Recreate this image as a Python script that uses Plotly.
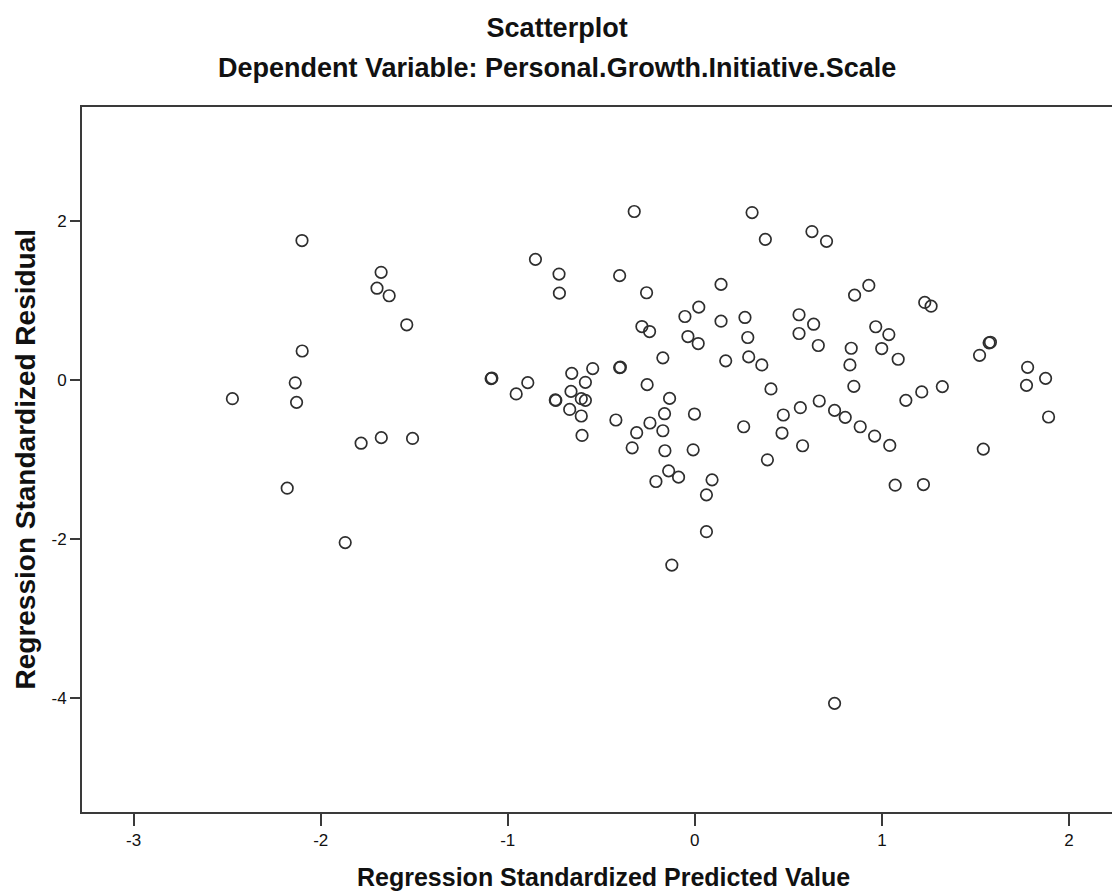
import plotly.graph_objects as go

# Regression standardized predicted values (x) and standardized residuals (y)
pred_value = [
    -2.100, -1.677, -1.699, -1.634, -1.540, -2.099, -2.136, -2.472, -2.129, -1.784,
    -1.676, -1.509, -2.179, -1.869,
    -0.324, 0.306, 0.377, -0.852, -0.726, -0.724, -0.402, -0.258, 0.140, 0.021,
    -0.053, 0.140, 0.268, -0.283, -0.242, -0.037, 0.018, 0.283, -0.171, 0.165,
    0.288, 0.358, -1.089, -1.085, -0.893, -0.955, -0.658, -0.546, -0.585, -0.402,
    -0.398, -0.662, -0.743, -0.746, -0.607, -0.585, -0.669, -0.607, -0.603, -0.422,
    -0.255, -0.135, -0.162, -0.240, -0.311, -0.171, -0.002, -0.335, -0.160, -0.009,
    0.261, 0.473, 0.466, 0.388, 0.407, -0.140, -0.087, -0.208, 0.092, 0.062,
    0.062, -0.123,
    0.626, 0.704, 0.854, 0.930, 1.229, 1.263, 0.557, 0.635, 0.557, 0.660,
    0.967, 1.037, 0.999, 1.087, 0.836, 0.829, 0.850, 1.573, 1.580, 1.522,
    1.779, 1.875, 1.773, 1.891, 1.323, 1.213, 1.128, 0.665, 0.564, 0.747,
    0.804, 0.884, 0.961, 1.042, 0.576, 1.542, 1.071, 1.222, 0.747,
]
std_residual = [
    1.750, 1.350, 1.150, 1.055, 0.690, 0.360, -0.040, -0.240, -0.286, -0.800,
    -0.730, -0.740, -1.366, -2.050,
    2.115, 2.102, 1.765, 1.513, 1.328, 1.088, 1.308, 1.093, 1.198, 0.912,
    0.794, 0.735, 0.782, 0.668, 0.605, 0.542, 0.454, 0.530, 0.274, 0.236,
    0.286, 0.185, 0.013, 0.020, -0.038, -0.180, 0.079, 0.139, -0.034, 0.151,
    0.156, -0.148, -0.261, -0.256, -0.240, -0.261, -0.375, -0.458, -0.702, -0.508,
    -0.063, -0.236, -0.429, -0.546, -0.668, -0.643, -0.433, -0.858, -0.895, -0.883,
    -0.593, -0.445, -0.672, -1.009, -0.117, -1.148, -1.227, -1.282, -1.261, -1.450,
    -1.913, -2.333,
    1.863, 1.740, 1.063, 1.185, 0.971, 0.924, 0.816, 0.697, 0.580, 0.429,
    0.665, 0.567, 0.391, 0.256, 0.395, 0.185, -0.084, 0.463, 0.470, 0.306,
    0.155, 0.016, -0.072, -0.470, -0.088, -0.155, -0.261, -0.269, -0.353, -0.387,
    -0.475, -0.593, -0.710, -0.828, -0.832, -0.874, -1.328, -1.320, -4.073,
]

x_ticks = [-3, -2, -1, 0, 1, 2]
y_ticks = [-4, -2, 0, 2]

title_text = "Scatterplot"
subtitle_text = "Dependent Variable: Personal.Growth.Initiative.Scale"
x_title = "Regression Standardized Predicted Value"
y_title = "Regression Standardized Residual"

FONT = "Liberation Sans, Arial, sans-serif"
AXC = "#3a3a3a"

fig = go.Figure(
    go.Scatter(
        x=pred_value,
        y=std_residual,
        mode="markers",
        marker=dict(symbol="circle-open", size=11.5, color="#2e2e2e",
                    line=dict(width=1.7, color="#2e2e2e")),
        showlegend=False,
        hoverinfo="x+y",
    )
)

fig.update_layout(
    width=1112,
    height=895,
    margin=dict(l=82, r=0, t=107, b=83),
    paper_bgcolor="white",
    plot_bgcolor="white",
    font=dict(family=FONT, color="#111111"),
    title=dict(text="<b>%s</b>" % title_text, x=0.501, xanchor="center",
               y=1 - 28 / 895, yanchor="middle",
               font=dict(family=FONT, size=27, color="#111111")),
)

fig.update_xaxes(
    range=[-3.276, 2.23],
    tickmode="array", tickvals=x_ticks, ticktext=[str(v) for v in x_ticks],
    showgrid=False, zeroline=False,
    showline=True, linecolor=AXC, linewidth=2, mirror=True,
    ticks="outside", ticklen=12, tickwidth=2, tickcolor=AXC,
    tickfont=dict(family=FONT, size=17, color="#111111"),
)
fig.update_yaxes(
    range=[-5.44, 3.43],
    tickmode="array", tickvals=y_ticks, ticktext=[str(v) for v in y_ticks],
    showgrid=False, zeroline=False,
    showline=True, linecolor=AXC, linewidth=2, mirror=False,
    ticks="outside", ticklen=10, tickwidth=2, tickcolor=AXC,
    tickfont=dict(family=FONT, size=17, color="#111111"),
)

fig.add_annotation(text="<b>%s</b>" % subtitle_text, xref="paper", yref="paper",
                   x=0.4612, y=1 + (107 - 68) / 705, xanchor="center", yanchor="middle",
                   showarrow=False, font=dict(family=FONT, size=27, color="#111111"))
fig.add_annotation(text="<b>%s</b>" % x_title, xref="paper", yref="paper",
                   x=(603 - 82) / 1030, y=-(877 - 812) / 705, xanchor="center", yanchor="middle",
                   showarrow=False, font=dict(family=FONT, size=25, color="#111111"))
fig.add_annotation(text="<b>%s</b>" % y_title, xref="paper", yref="paper",
                   x=(25 - 82) / 1030, y=0.5, xanchor="center", yanchor="middle",
                   textangle=-90,
                   showarrow=False, font=dict(family=FONT, size=28, color="#111111"))

fig.write_html("out.html", config={"displayModeBar": False},
               post_script="document.body.style.margin='0';document.body.style.overflow='hidden';")
